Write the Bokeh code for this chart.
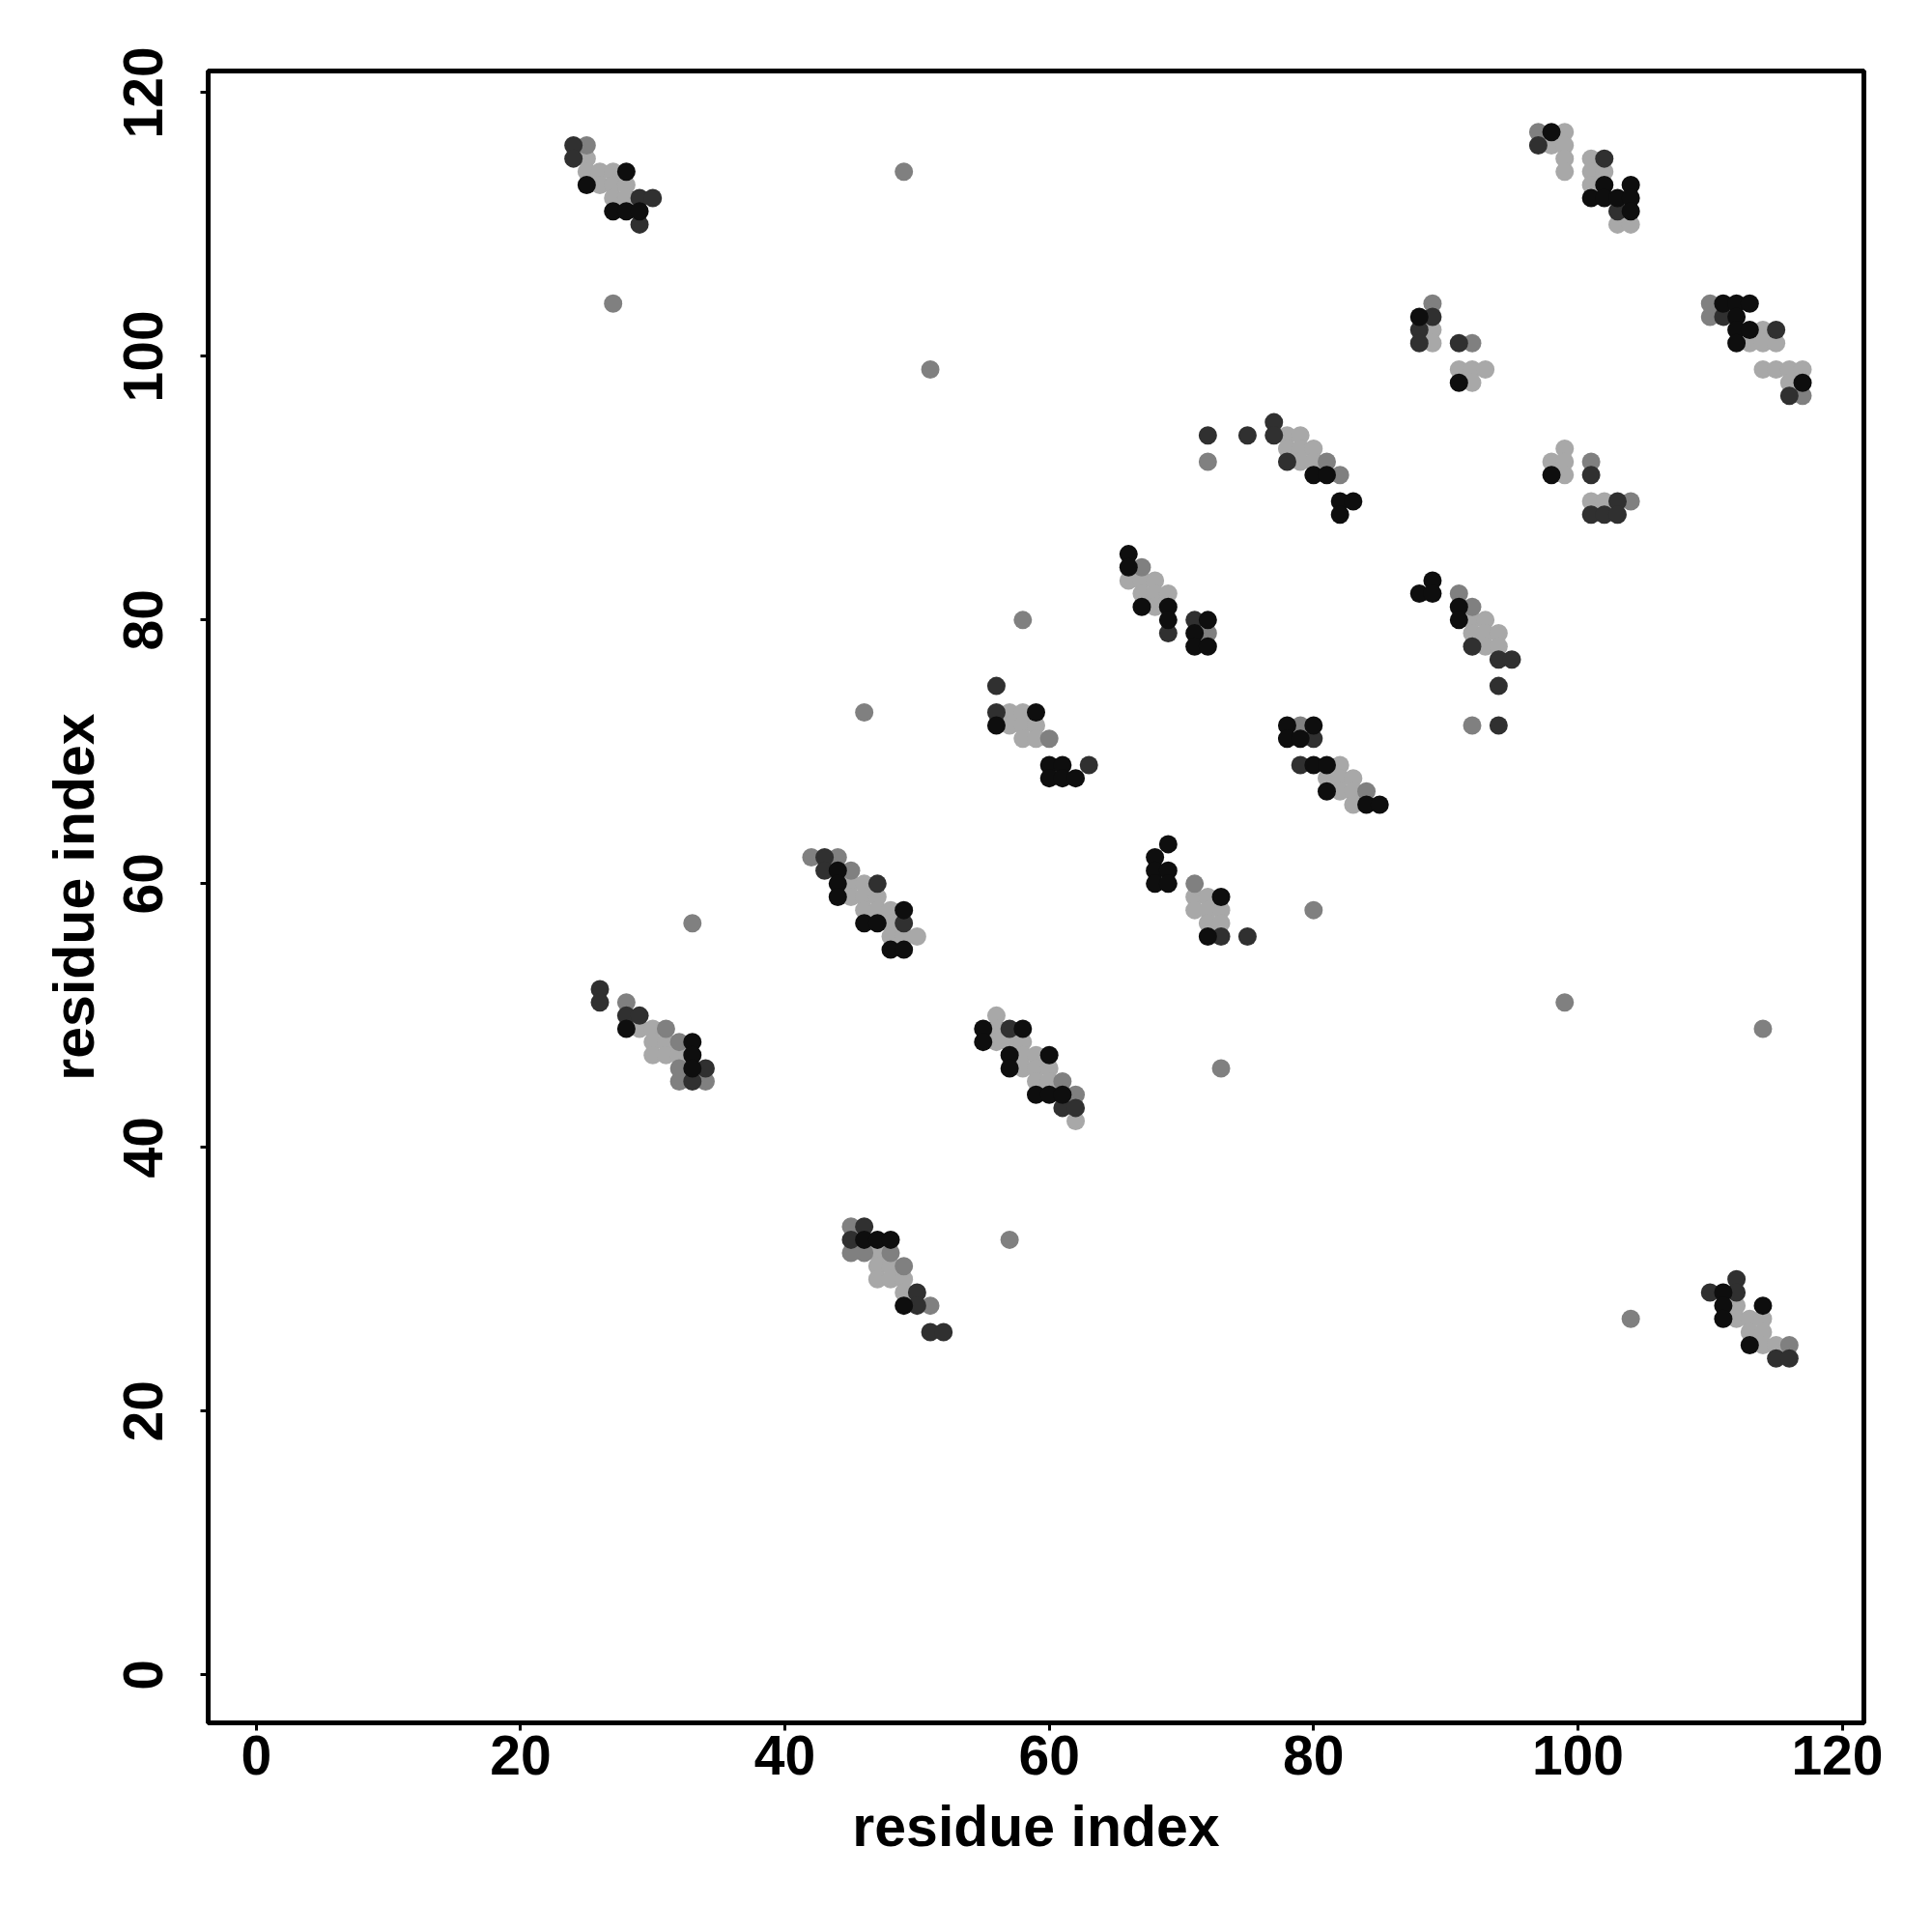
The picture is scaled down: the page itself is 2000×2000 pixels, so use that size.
from bokeh.plotting import figure
from bokeh.models import Range1d, FixedTicker
from bokeh.embed import file_html
from bokeh.resources import INLINE

# ---- data: contacts (residue i, residue j) grouped by grey shade ----
black_x = [28, 25, 27, 28, 29,
           98, 102, 101, 102, 103, 104, 104, 104,
           88, 91,
           111, 112, 113, 112, 112, 113, 112, 117,
           80, 81, 82, 83, 82,
           98,
           66, 66, 67, 69, 69, 72, 71, 71, 72,
           89, 88, 89, 91, 91,
           59, 56, 60, 61, 60, 61, 62,
           78, 80, 78, 79, 80, 81, 81, 84, 85,
           44, 44, 44, 49, 46, 47, 48, 49,
           69, 68, 68, 69, 68, 69, 73, 72,
           28, 33, 33, 33,
           55, 58, 55, 57, 60, 57, 59, 60, 61,
           46, 47, 48, 49,
           111, 111, 114, 111, 113]
black_y = [114, 113, 111, 111, 111,
           117, 113, 112, 112, 112, 113, 112, 111,
           103, 98,
           104, 104, 104, 103, 102, 102, 101, 98,
           91, 91, 89, 89, 88,
           91,
           85, 84, 81, 81, 80, 80, 79, 78, 78,
           83, 82, 82, 81, 80,
           73, 72, 69, 69, 68, 68, 68,
           72, 72, 71, 71, 69, 69, 67, 66, 66,
           61, 60, 59, 58, 57, 57, 55, 55,
           63, 62, 61, 61, 60, 60, 59, 56,
           49, 48, 47, 46,
           49, 49, 48, 47, 47, 46, 44, 44, 44,
           33, 33, 33, 28,
           29, 28, 28, 27, 25]

dark_x = [24, 24, 29, 30, 29,
          97, 102, 103,
          89, 88, 88, 91,
          111, 115, 116,
          72, 75, 77, 77, 78,
          101, 103, 101, 102, 103,
          71, 69,
          92, 94, 95, 94, 94,
          56, 56, 63,
          80, 79,
          43, 43, 47, 49,
          73, 75,
          26, 26, 28, 29, 34, 33,
          57, 61, 62,
          46, 45, 50, 50, 51, 52,
          112, 110, 112, 115, 116]
dark_y = [116, 115, 112, 112, 110,
          116, 115, 111,
          103, 102, 101, 101,
          103, 102, 97,
          94, 94, 95, 94, 92,
          91, 89, 88, 88, 88,
          80, 79,
          78, 77, 77, 75, 72,
          75, 73, 69,
          71, 69,
          62, 61, 60, 57,
          56, 56,
          52, 51, 50, 50, 46, 45,
          49, 43, 43,
          34, 33, 29, 28, 26, 26,
          30, 29, 29, 24, 24]

mid_x = [25, 27,
         97,
         89, 92,
         110, 110, 117,
         72, 81, 82,
         101, 104,
         67, 72,
         91, 92, 92,
         60,
         79, 84,
         42, 44, 45,
         71,
         28, 31, 32, 32, 32, 34,
         61, 62,
         45, 45, 46, 48, 49, 51,
         116,
         49, 51, 58, 46, 33, 80, 73, 99, 114, 57, 104]
mid_y = [116, 104,
         117,
         104, 101,
         104, 103, 97,
         92, 92, 91,
         92, 89,
         84, 79,
         82, 81, 72,
         71,
         72, 67,
         62, 62, 61,
         60,
         51, 49, 48, 46, 45, 45,
         45, 44,
         34, 32, 32, 32, 31, 28,
         25,
         114, 99, 80, 73, 57, 58, 46, 51, 49, 33, 27]

light_x = [25, 25, 26, 27, 26, 27, 28, 27, 28,
           99, 98, 99, 99, 99, 101, 101, 102, 101, 103, 104,
           89, 89, 91, 92, 93, 92,
           114, 113, 114, 115, 114, 115, 116, 117, 116,
           78, 79, 78, 79, 80, 79, 80,
           99, 98, 99, 99, 101, 102,
           66, 67, 68, 67, 68, 69, 68,
           92, 93, 92, 93, 94, 93, 94,
           57, 58, 57, 58, 59, 58, 59,
           82, 81, 82, 83, 82, 83, 83,
           45, 46, 45, 46, 47, 46, 47, 48, 48, 48, 49, 50,
           71, 72, 71, 72, 73, 72, 73,
           29, 30, 30, 31, 30, 31, 32,
           56, 56, 56, 57, 58, 58, 59, 58, 59, 60, 59, 60, 62,
           47, 47, 48, 47, 48, 49, 49,
           112, 112, 113, 114, 113, 114, 114, 115]
light_y = [115, 114, 114, 114, 113, 113, 113, 112, 112,
           117, 116, 116, 115, 114, 115, 114, 114, 113, 110, 110,
           102, 101, 99, 99, 99, 98,
           102, 101, 101, 101, 99, 99, 99, 99, 98,
           94, 94, 93, 93, 93, 92, 92,
           93, 92, 92, 91, 89, 89,
           83, 83, 83, 82, 82, 82, 81,
           80, 80, 79, 79, 79, 78, 78,
           73, 73, 72, 72, 72, 71, 71,
           69, 68, 68, 68, 67, 67, 66,
           60, 60, 59, 59, 59, 58, 58, 58, 57, 56, 56, 56,
           59, 59, 58, 58, 58, 57, 57,
           49, 49, 48, 48, 47, 47, 47,
           50, 49, 48, 48, 48, 47, 47, 46, 46, 46, 45, 45, 42,
           32, 31, 31, 30, 30, 30, 29,
           28, 27, 27, 27, 26, 26, 25, 25]

tick_values = [0, 20, 40, 60, 80, 100, 120]
axis_title = "residue index"

FONT = "Liberation Sans"

p = figure(width=1949, height=1935, output_backend="svg", toolbar_location=None,
           x_range=Range1d(-3.64, 121.64), y_range=Range1d(-3.64, 121.64),
           min_border_left=215, min_border_right=20, min_border_top=73,
           min_border_bottom=152)

p.outline_line_color = "black"
p.outline_line_width = 5
p.xgrid.visible = False
p.ygrid.visible = False
p.background_fill_color = "white"
p.border_fill_color = "white"

for ax in (p.xaxis[0], p.yaxis[0]):
    ax.ticker = FixedTicker(ticks=tick_values)
    ax.axis_line_color = None
    ax.major_tick_in = 0
    ax.major_tick_out = 8
    ax.major_tick_line_width = 3
    ax.major_tick_line_color = "black"
    ax.minor_tick_line_color = None
    ax.major_label_text_font = FONT
    ax.major_label_text_font_style = "bold"
    ax.major_label_text_font_size = "57px"
    ax.major_label_text_color = "black"
    ax.axis_label = axis_title
    ax.axis_label_text_font = FONT
    ax.axis_label_text_font_style = "bold"
    ax.axis_label_text_font_size = "59px"
    ax.axis_label_text_color = "black"

p.xaxis[0].major_label_standoff = 5
p.xaxis[0].axis_label_standoff = 18
p.yaxis[0].major_label_orientation = "vertical"
p.yaxis[0].major_label_standoff = 39
p.yaxis[0].axis_label_standoff = 16

DOT = 19
p.scatter(light_x, light_y, size=DOT, color="#a8a8a8", line_color=None)
p.scatter(mid_x, mid_y, size=DOT, color="#808080", line_color=None)
p.scatter(dark_x, dark_y, size=DOT, color="#303030", line_color=None)
p.scatter(black_x, black_y, size=DOT, color="#0e0e0e", line_color=None)

open("out.html", "w").write(file_html(p, INLINE))
